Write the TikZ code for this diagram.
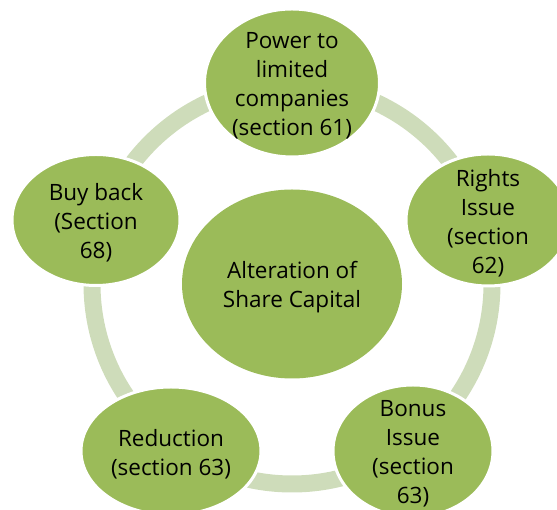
\documentclass[tikz,border=0pt]{standalone}
\usepackage{fontspec}
\setmainfont{Open Sans}
\usetikzlibrary{shapes.geometric}
\definecolor{olive}{RGB}{155,187,89}
\definecolor{ringc}{RGB}{206,220,186}
\tikzset{
  sat/.style={ellipse, fill=olive, draw=white, line width=3pt, inner sep=0pt},
  core/.style={ellipse, fill=olive, inner sep=0pt},
  lbl/.style={align=center, inner sep=0pt, text=black, yshift=-3pt, font=\fontsize{22.5}{29}\selectfont},
  ringline/.style={draw=ringc, line width=17pt}
}
\begin{document}
\begin{tikzpicture}[x=1pt,y=1pt]
\useasboundingbox (0,0) rectangle (557,510);
\coordinate (c) at (292,226);
\draw[ringline] (c) circle (200);
\node[core, minimum width=220pt, minimum height=189pt] (mid) at (c) {};
\node[sat, minimum width=175pt, minimum height=148pt] (top) at (292,427) {};
\node[sat, minimum width=164pt, minimum height=132pt] (rights) at (488,290) {};
\node[sat, minimum width=160pt, minimum height=132pt] (bonus) at (413,59) {};
\node[sat, minimum width=180pt, minimum height=128pt] (red) at (171,59) {};
\node[sat, minimum width=168pt, minimum height=131pt] (buy) at (96,290) {};
\node[lbl] (tmid) at (mid) {Alteration of\\Share Capital};
\node[lbl] (ttop) at (top) {Power to\\limited\\companies\\(section 61)};
\node[lbl] (trights) at (rights) {Rights\\Issue\\(section\\62)};
\node[lbl] (tbonus) at (bonus) {Bonus\\Issue\\(section\\63)};
\node[lbl] (tred) at (red) {Reduction\\(section 63)};
\node[lbl] (tbuy) at (buy) {Buy back\\(Section\\68)};
\end{tikzpicture}
\end{document}
